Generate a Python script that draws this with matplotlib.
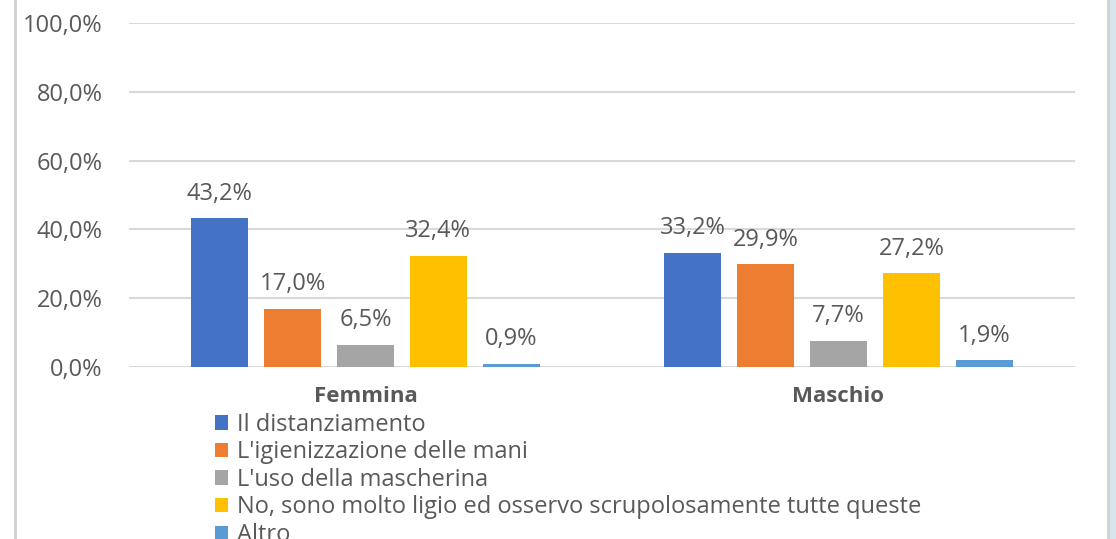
import numpy as np
import matplotlib
matplotlib.use("Agg")
import matplotlib.pyplot as plt
from matplotlib.lines import Line2D
from matplotlib.patches import Rectangle

plt.rcParams['font.family'] = ['Open Sans', 'DejaVu Sans']

categories = ["Femmina", "Maschio"]
series_names = [
    "Il distanziamento",
    "L'igienizzazione delle mani",
    "L'uso della mascherina",
    "No, sono molto ligio ed osservo scrupolosamente tutte queste",
    "Altro",
]
values = [
    [43.2, 33.2],
    [17.0, 29.9],
    [6.5, 7.7],
    [32.4, 27.2],
    [0.9, 1.9],
]
colors = ["#4472C4", "#ED7D31", "#A5A5A5", "#FFC000", "#5B9BD5"]
yticks = [0, 20, 40, 60, 80, 100]

txt = "#595959"

fig = plt.figure(figsize=(11.16, 5.39), dpi=100)
ax = fig.add_axes([129/1116, 1 - 367/539, (1075-129)/1116, (367-23)/539])

x = np.arange(len(categories))
step = 0.154
width = 0.1205
for i, (name, vals) in enumerate(zip(series_names, values)):
    pos = x + (i - 2) * step
    bars = ax.bar(pos, vals, width, color=colors[i], label=name, zorder=3)
    for b, v in zip(bars, vals):
        ax.annotate(f"{v:.1f}%".replace(".", ","),
                    (b.get_x() + b.get_width()/2, v),
                    xytext=(0, 9), textcoords="offset points",
                    ha="center", va="bottom", fontsize=17, color=txt)

ax.set_xlim(-0.5, 1.5)
ax.set_ylim(0, 100)
ax.set_yticks(yticks)
ax.set_yticklabels([f"{t:.1f}%".replace(".", ",") for t in yticks], fontsize=17, color=txt)
ax.set_xticks(x)
ax.set_xticklabels(categories, fontsize=16, fontweight="bold", color=txt)
ax.tick_params(axis="both", length=0)
ax.tick_params(axis="y", pad=19)
ax.tick_params(axis="x", pad=14)
ax.grid(axis="y", color="#d9d9d9", linewidth=1.5, zorder=0)
for s in ax.spines.values():
    s.set_visible(False)

# frame pieces
fig.add_artist(Line2D([15/1116, 15/1116], [0, 1], color="#d0d0d0", linewidth=2, transform=fig.transFigure))
fig.add_artist(Line2D([1108/1116, 1108/1116], [0, 1], color="#d0d0d0", linewidth=2, transform=fig.transFigure))
fig.add_artist(Rectangle((1109/1116, 0), 7/1116, 1, color="#d6e6ec", transform=fig.transFigure))

fig.legend(loc="upper left", bbox_to_anchor=(203/1116, 1 - 401/539), frameon=False,
           fontsize=17, handlelength=0.55, handleheight=0.55, handletextpad=0.4,
           labelspacing=0.15, labelcolor=txt, borderpad=0)

fig.savefig("out.png", dpi=100)
